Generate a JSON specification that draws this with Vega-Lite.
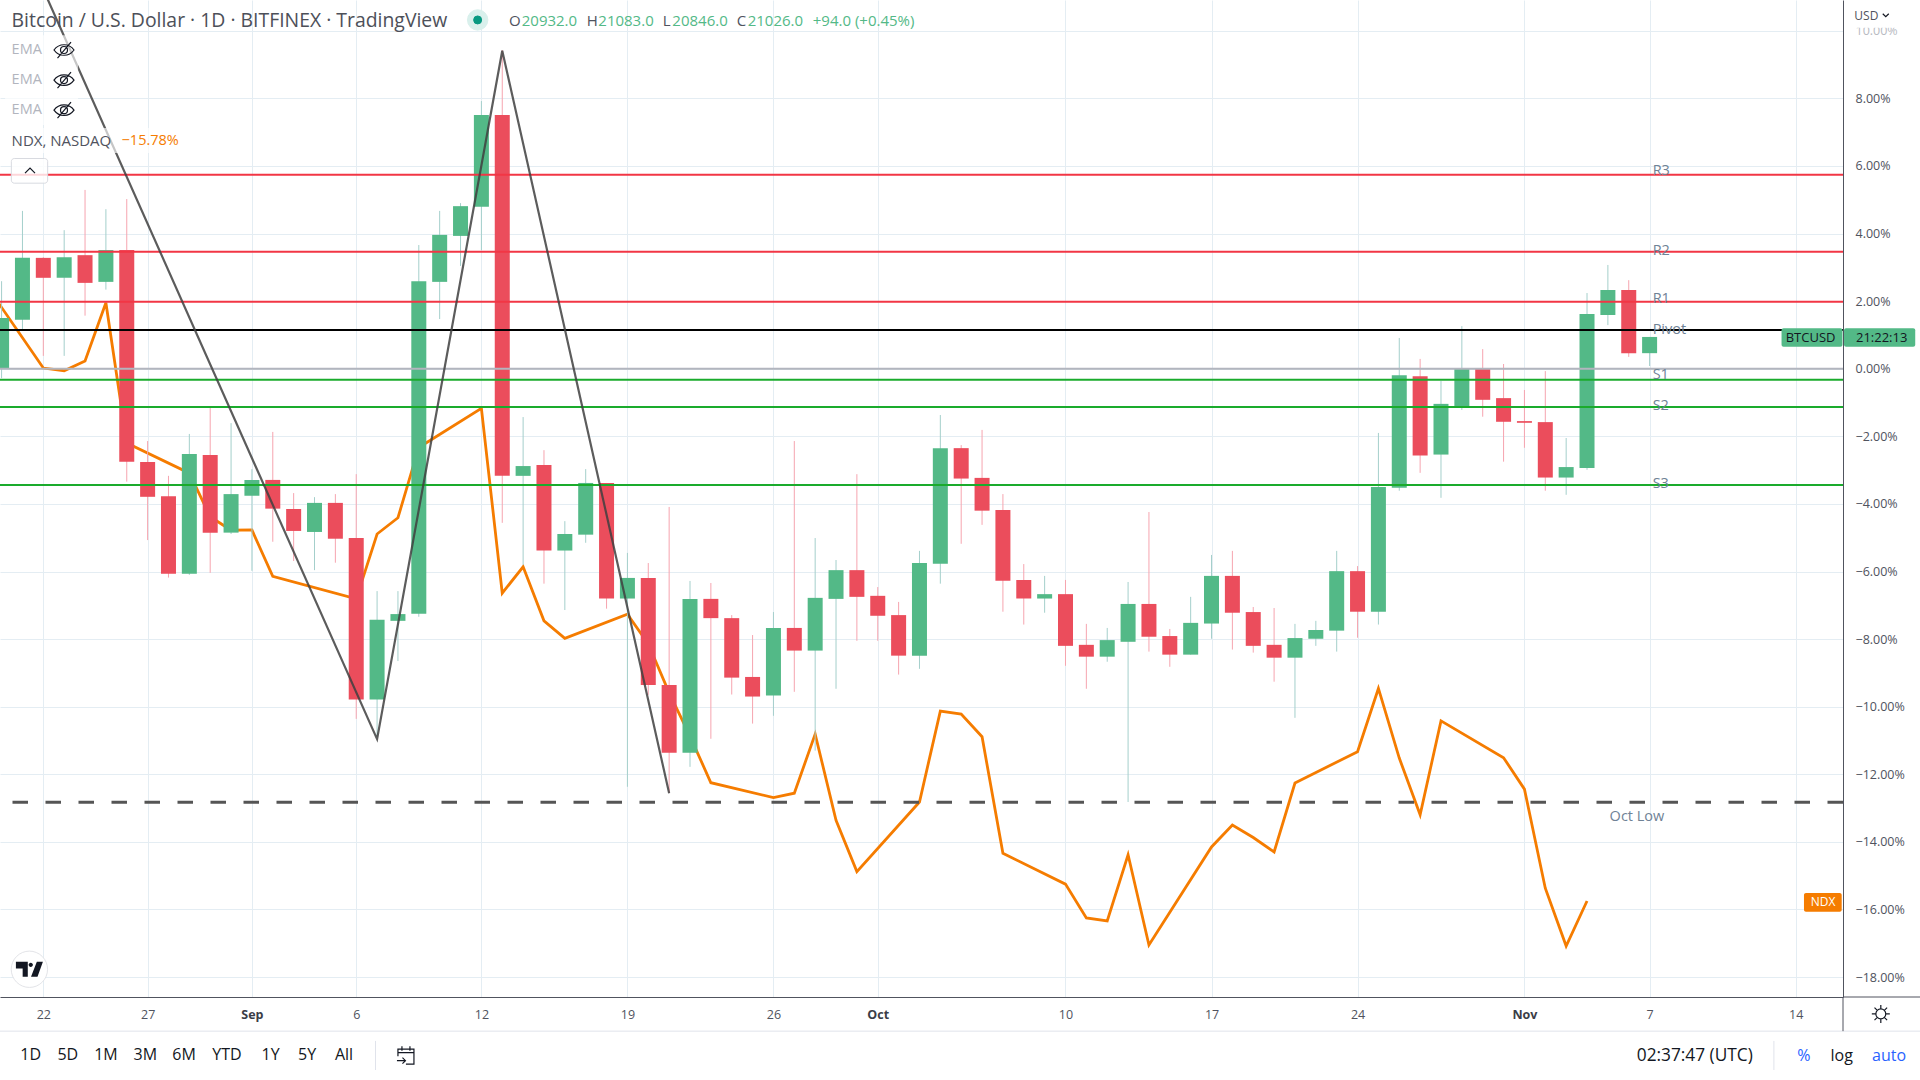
{
"$schema":"https://vega.github.io/schema/vega-lite/v6.json",
"width":1843,"height":997,
"autosize":{"type":"none"},
"padding":{"left":0,"top":0,"right":77,"bottom":83},
"background":"#ffffff",
"config":{"view":{"stroke":null},"font":"Open Sans"},
"resolve":{"scale":{"color":"independent","size":"independent","shape":"independent"}},
"datasets":{
"candles":[
{"date":"2022-08-20","open":0.02,"high":2.59,"low":-0.28,"close":1.50},
{"date":"2022-08-21","open":1.45,"high":4.67,"low":1.14,"close":3.28},
{"date":"2022-08-22","open":3.28,"high":3.30,"low":0.38,"close":2.69},
{"date":"2022-08-23","open":2.69,"high":4.10,"low":0.38,"close":3.30},
{"date":"2022-08-24","open":3.36,"high":5.29,"low":1.57,"close":2.54},
{"date":"2022-08-25","open":2.57,"high":4.72,"low":2.34,"close":3.51},
{"date":"2022-08-26","open":3.51,"high":5.02,"low":-3.34,"close":-2.75},
{"date":"2022-08-27","open":-2.76,"high":-2.14,"low":-5.07,"close":-3.79},
{"date":"2022-08-28","open":-3.77,"high":-3.17,"low":-6.18,"close":-6.07},
{"date":"2022-08-29","open":-6.07,"high":-1.93,"low":-6.10,"close":-2.52},
{"date":"2022-08-30","open":-2.55,"high":-1.15,"low":-6.04,"close":-4.85},
{"date":"2022-08-31","open":-4.85,"high":-1.61,"low":-4.89,"close":-3.71},
{"date":"2022-09-01","open":-3.76,"high":-2.97,"low":-5.98,"close":-3.29},
{"date":"2022-09-02","open":-3.29,"high":-1.87,"low":-5.12,"close":-4.14},
{"date":"2022-09-03","open":-4.15,"high":-3.68,"low":-5.69,"close":-4.80},
{"date":"2022-09-04","open":-4.83,"high":-3.80,"low":-5.96,"close":-3.97},
{"date":"2022-09-05","open":-3.97,"high":-3.71,"low":-5.74,"close":-5.03},
{"date":"2022-09-06","open":-5.01,"high":-3.12,"low":-10.36,"close":-9.79},
{"date":"2022-09-07","open":-9.79,"high":-6.58,"low":-10.89,"close":-7.43},
{"date":"2022-09-08","open":-7.46,"high":-6.58,"low":-8.65,"close":-7.26},
{"date":"2022-09-09","open":-7.25,"high":3.66,"low":-7.34,"close":2.59},
{"date":"2022-09-10","open":2.57,"high":4.67,"low":1.47,"close":3.96},
{"date":"2022-09-11","open":3.93,"high":4.90,"low":3.04,"close":4.81},
{"date":"2022-09-12","open":4.79,"high":7.92,"low":3.51,"close":7.51},
{"date":"2022-09-13","open":7.51,"high":9.43,"low":-4.56,"close":-3.17},
{"date":"2022-09-14","open":-3.17,"high":-1.43,"low":-5.81,"close":-2.88},
{"date":"2022-09-15","open":-2.85,"high":-2.41,"low":-6.36,"close":-5.38},
{"date":"2022-09-16","open":-5.38,"high":-4.51,"low":-7.14,"close":-4.89},
{"date":"2022-09-17","open":-4.91,"high":-2.97,"low":-5.15,"close":-3.38},
{"date":"2022-09-18","open":-3.38,"high":-3.38,"low":-7.10,"close":-6.80},
{"date":"2022-09-19","open":-6.80,"high":-5.45,"low":-12.37,"close":-6.19},
{"date":"2022-09-20","open":-6.19,"high":-5.75,"low":-9.65,"close":-9.36},
{"date":"2022-09-21","open":-9.36,"high":-4.09,"low":-12.55,"close":-11.36},
{"date":"2022-09-22","open":-11.36,"high":-6.28,"low":-11.78,"close":-6.81},
{"date":"2022-09-23","open":-6.81,"high":-6.34,"low":-10.95,"close":-7.38},
{"date":"2022-09-24","open":-7.38,"high":-7.29,"low":-9.64,"close":-9.14},
{"date":"2022-09-25","open":-9.12,"high":-7.88,"low":-10.50,"close":-9.70},
{"date":"2022-09-26","open":-9.67,"high":-7.20,"low":-10.27,"close":-7.67},
{"date":"2022-09-27","open":-7.67,"high":-2.14,"low":-9.56,"close":-8.34},
{"date":"2022-09-28","open":-8.34,"high":-5.01,"low":-11.30,"close":-6.78},
{"date":"2022-09-29","open":-6.81,"high":-5.66,"low":-9.47,"close":-5.96},
{"date":"2022-09-30","open":-5.96,"high":-3.12,"low":-8.05,"close":-6.75},
{"date":"2022-10-01","open":-6.72,"high":-6.46,"low":-8.05,"close":-7.31},
{"date":"2022-10-02","open":-7.29,"high":-6.90,"low":-9.05,"close":-8.49},
{"date":"2022-10-03","open":-8.49,"high":-5.39,"low":-8.88,"close":-5.75},
{"date":"2022-10-04","open":-5.77,"high":-1.37,"low":-6.36,"close":-2.35},
{"date":"2022-10-05","open":-2.35,"high":-2.26,"low":-5.18,"close":-3.25},
{"date":"2022-10-06","open":-3.23,"high":-1.81,"low":-4.62,"close":-4.20},
{"date":"2022-10-07","open":-4.18,"high":-3.71,"low":-7.19,"close":-6.27},
{"date":"2022-10-08","open":-6.25,"high":-5.78,"low":-7.57,"close":-6.80},
{"date":"2022-10-09","open":-6.80,"high":-6.13,"low":-7.22,"close":-6.67},
{"date":"2022-10-10","open":-6.67,"high":-6.25,"low":-8.79,"close":-8.20},
{"date":"2022-10-11","open":-8.17,"high":-7.55,"low":-9.47,"close":-8.52},
{"date":"2022-10-12","open":-8.52,"high":-7.67,"low":-8.67,"close":-8.03},
{"date":"2022-10-13","open":-8.08,"high":-6.31,"low":-12.82,"close":-6.96},
{"date":"2022-10-14","open":-6.96,"high":-4.24,"low":-8.37,"close":-7.93},
{"date":"2022-10-15","open":-7.91,"high":-7.70,"low":-8.82,"close":-8.46},
{"date":"2022-10-16","open":-8.46,"high":-6.75,"low":-8.46,"close":-7.52},
{"date":"2022-10-17","open":-7.54,"high":-5.51,"low":-7.99,"close":-6.13},
{"date":"2022-10-18","open":-6.13,"high":-5.39,"low":-8.31,"close":-7.22},
{"date":"2022-10-19","open":-7.20,"high":-7.05,"low":-8.40,"close":-8.20},
{"date":"2022-10-20","open":-8.17,"high":-7.08,"low":-9.26,"close":-8.55},
{"date":"2022-10-21","open":-8.55,"high":-7.55,"low":-10.33,"close":-7.97},
{"date":"2022-10-22","open":-7.99,"high":-7.46,"low":-8.20,"close":-7.73},
{"date":"2022-10-23","open":-7.75,"high":-5.39,"low":-8.37,"close":-5.99},
{"date":"2022-10-24","open":-5.99,"high":-5.84,"low":-7.96,"close":-7.19},
{"date":"2022-10-25","open":-7.19,"high":-1.90,"low":-7.57,"close":-3.50},
{"date":"2022-10-26","open":-3.52,"high":0.91,"low":-3.61,"close":-0.19},
{"date":"2022-10-27","open":-0.22,"high":0.29,"low":-3.08,"close":-2.57},
{"date":"2022-10-28","open":-2.54,"high":-0.36,"low":-3.82,"close":-1.04},
{"date":"2022-10-29","open":-1.13,"high":1.26,"low":-1.22,"close":0.02},
{"date":"2022-10-30","open":0.02,"high":0.58,"low":-1.42,"close":-0.92},
{"date":"2022-10-31","open":-0.87,"high":0.14,"low":-2.75,"close":-1.57},
{"date":"2022-11-01","open":-1.55,"high":-0.63,"low":-2.34,"close":-1.60},
{"date":"2022-11-02","open":-1.58,"high":-0.07,"low":-3.61,"close":-3.22},
{"date":"2022-11-03","open":-3.22,"high":-2.05,"low":-3.73,"close":-2.91},
{"date":"2022-11-04","open":-2.94,"high":2.24,"low":-2.99,"close":1.62},
{"date":"2022-11-05","open":1.59,"high":3.07,"low":1.29,"close":2.33},
{"date":"2022-11-06","open":2.33,"high":2.62,"low":0.35,"close":0.46},
{"date":"2022-11-07","open":0.46,"high":0.94,"low":0.08,"close":0.94}
],
"ndx":[
{"date":"2022-08-19","v":2.71},{"date":"2022-08-22","v":0.02},{"date":"2022-08-23","v":-0.06},{"date":"2022-08-24","v":0.23},{"date":"2022-08-25","v":1.95},{"date":"2022-08-26","v":-2.20},
{"date":"2022-08-29","v":-3.09},{"date":"2022-08-30","v":-4.38},{"date":"2022-08-31","v":-4.78},{"date":"2022-09-01","v":-4.77},{"date":"2022-09-02","v":-6.14},
{"date":"2022-09-06","v":-6.81},{"date":"2022-09-07","v":-4.89},{"date":"2022-09-08","v":-4.41},{"date":"2022-09-09","v":-2.33},
{"date":"2022-09-12","v":-1.17},{"date":"2022-09-13","v":-6.64},{"date":"2022-09-14","v":-5.86},{"date":"2022-09-15","v":-7.46},{"date":"2022-09-16","v":-7.98},
{"date":"2022-09-19","v":-7.26},{"date":"2022-09-20","v":-8.14},{"date":"2022-09-21","v":-9.59},{"date":"2022-09-22","v":-10.87},{"date":"2022-09-23","v":-12.25},
{"date":"2022-09-26","v":-12.69},{"date":"2022-09-27","v":-12.56},{"date":"2022-09-28","v":-10.81},{"date":"2022-09-29","v":-13.36},{"date":"2022-09-30","v":-14.88},
{"date":"2022-10-03","v":-12.82},{"date":"2022-10-04","v":-10.13},{"date":"2022-10-05","v":-10.22},{"date":"2022-10-06","v":-10.89},{"date":"2022-10-07","v":-14.34},
{"date":"2022-10-10","v":-15.25},{"date":"2022-10-11","v":-16.25},{"date":"2022-10-12","v":-16.34},{"date":"2022-10-13","v":-14.38},{"date":"2022-10-14","v":-17.05},
{"date":"2022-10-17","v":-14.15},{"date":"2022-10-18","v":-13.50},{"date":"2022-10-19","v":-13.87},{"date":"2022-10-20","v":-14.30},{"date":"2022-10-21","v":-12.26},
{"date":"2022-10-24","v":-11.33},{"date":"2022-10-25","v":-9.46},{"date":"2022-10-26","v":-11.52},{"date":"2022-10-27","v":-13.20},{"date":"2022-10-28","v":-10.42},
{"date":"2022-10-31","v":-11.51},{"date":"2022-11-01","v":-12.44},{"date":"2022-11-02","v":-15.37},{"date":"2022-11-03","v":-17.08},{"date":"2022-11-04","v":-15.75}
],
"levels":[
{"name":"Zero","v":0},{"name":"R3","v":5.74},{"name":"R2","v":3.46},{"name":"R1","v":1.98},{"name":"Pivot","v":1.145},{"name":"S1","v":-0.33},{"name":"S2","v":-1.13},{"name":"S3","v":-3.44}
],
"zigzag":[
{"date":"2022-08-22","v":11.22},{"date":"2022-09-07","v":-10.96},{"date":"2022-09-13","v":9.41},{"date":"2022-09-21","v":-12.56}
],
"veils":[
{"kind":"veil","x":"2022-08-20T04:00:00Z","x2":"2022-08-23T16:00:00Z","v":9.87,"v2":7.21},
{"kind":"veil","x":"2022-08-20T04:00:00Z","x2":"2022-08-28T19:00:00Z","v":7.12,"v2":6.38},
{"kind":"cover","x":"2022-11-16T07:40:00Z","x2":"2022-11-20T00:00:00Z","v":10.91,"v2":10.09},
{"kind":"btc","x":"2022-11-13T07:48:00Z","x2":"2022-11-16T05:54:00Z","v":1.20,"v2":0.65},
{"kind":"btc","x":"2022-11-16T07:40:00Z","x2":"2022-11-19T17:36:00Z","v":1.20,"v2":0.65},
{"kind":"ndx","x":"2022-11-14T09:36:00Z","x2":"2022-11-16T05:00:00Z","v":-15.51,"v2":-16.07}
],
"button":[{"x":"2022-08-20T11:12:00Z","x2":"2022-08-22T05:00:00Z","v":6.22,"v2":5.49}],
"hlines":[
{"x":"2022-11-16T06:30:00Z","x2":"2022-11-20T00:00:00Z","v":-18.59,"kind":"axis"},
{"x":"2022-08-19T22:10:00Z","x2":"2022-11-20T00:00:00Z","v":-19.6,"kind":"sep"}
],
"vlines":[
{"x":"2022-11-16T06:30:00Z","v":-18.59,"v2":-19.6,"kind":"axis"},
{"x":"2022-09-06T22:12:00Z","v":-19.89,"v2":-20.75,"kind":"sep"},
{"x":"2022-11-12T23:00:00Z","v":-19.89,"v2":-20.75,"kind":"sep"}
],
"leftText":[
{"t":"Bitcoin / U.S. Dollar · 1D · BITFINEX · TradingView","x":"2022-08-20T11:30:00Z","v":10.29,"kind":"head"},
{"t":"O","x":"2022-09-13T07:48:00Z","v":10.29,"kind":"letter"},
{"t":"20932.0","x":"2022-09-13T22:24:00Z","v":10.29,"kind":"gain"},
{"t":"H","x":"2022-09-17T01:12:00Z","v":10.29,"kind":"letter"},
{"t":"21083.0","x":"2022-09-17T14:30:00Z","v":10.29,"kind":"gain"},
{"t":"L","x":"2022-09-20T16:36:00Z","v":10.29,"kind":"letter"},
{"t":"20846.0","x":"2022-09-21T03:42:00Z","v":10.29,"kind":"gain"},
{"t":"C","x":"2022-09-24T05:42:00Z","v":10.29,"kind":"letter"},
{"t":"21026.0","x":"2022-09-24T18:24:00Z","v":10.29,"kind":"gain"},
{"t":"+94.0 (+0.45%)","x":"2022-09-27T21:12:00Z","v":10.29,"kind":"gain"},
{"t":"EMA","x":"2022-08-20T11:30:00Z","v":9.43,"kind":"ema"},
{"t":"EMA","x":"2022-08-20T11:30:00Z","v":8.54,"kind":"ema"},
{"t":"EMA","x":"2022-08-20T11:30:00Z","v":7.65,"kind":"ema"},
{"t":"NDX, NASDAQ","x":"2022-08-20T11:30:00Z","v":6.75,"kind":"legend"},
{"t":"−15.78%","x":"2022-08-25T18:00:00Z","v":6.75,"kind":"orange"},
{"t":"R3","x":"2022-11-07T03:30:00Z","v":5.86,"kind":"level"},
{"t":"R2","x":"2022-11-07T03:30:00Z","v":3.49,"kind":"level"},
{"t":"R1","x":"2022-11-07T03:30:00Z","v":2.07,"kind":"level"},
{"t":"Pivot","x":"2022-11-07T03:30:00Z","v":1.14,"kind":"level"},
{"t":"S1","x":"2022-11-07T03:30:00Z","v":-0.20,"kind":"level"},
{"t":"S2","x":"2022-11-07T03:30:00Z","v":-1.10,"kind":"level"},
{"t":"S3","x":"2022-11-07T03:30:00Z","v":-3.40,"kind":"level"},
{"t":"Oct Low","x":"2022-11-05T02:00:00Z","v":-13.25,"kind":"level"},
{"t":"USD","x":"2022-11-16T19:30:00Z","v":10.44,"kind":"usd"}
],
"centerText":[
{"t":"1D","x":"2022-08-21T09:24:00Z","v":-20.31,"kind":"tool"},
{"t":"5D","x":"2022-08-23T04:12:00Z","v":-20.31,"kind":"tool"},
{"t":"1M","x":"2022-08-25T00:06:00Z","v":-20.31,"kind":"tool"},
{"t":"3M","x":"2022-08-26T21:18:00Z","v":-20.31,"kind":"tool"},
{"t":"6M","x":"2022-08-28T17:54:00Z","v":-20.31,"kind":"tool"},
{"t":"YTD","x":"2022-08-30T19:18:00Z","v":-20.31,"kind":"tool"},
{"t":"1Y","x":"2022-09-01T21:30:00Z","v":-20.31,"kind":"tool"},
{"t":"5Y","x":"2022-09-03T15:24:00Z","v":-20.31,"kind":"tool"},
{"t":"All","x":"2022-09-05T10:00:00Z","v":-20.31,"kind":"tool"},
{"t":"02:37:47 (UTC)","x":"2022-11-09T04:00:00Z","v":-20.33,"kind":"clock"},
{"t":"%","x":"2022-11-14T09:24:00Z","v":-20.35,"kind":"blue"},
{"t":"log","x":"2022-11-16T05:00:00Z","v":-20.35,"kind":"tool"},
{"t":"auto","x":"2022-11-18T11:30:00Z","v":-20.35,"kind":"blue"},
{"t":"BTCUSD","x":"2022-11-14T17:12:00Z","v":0.91,"kind":"pill"},
{"t":"21:22:13","x":"2022-11-18T03:00:00Z","v":0.91,"kind":"pill"},
{"t":"NDX","x":"2022-11-15T07:30:00Z","v":-15.79,"kind":"pillw"}
],
"icons":[
{"icon":"eye","x":"2022-08-22T23:48:00Z","v":9.43},
{"icon":"eye","x":"2022-08-22T23:48:00Z","v":8.54},
{"icon":"eye","x":"2022-08-22T23:48:00Z","v":7.65},
{"icon":"up","x":"2022-08-21T08:42:00Z","v":5.86},
{"icon":"down","x":"2022-11-18T07:42:00Z","v":10.46},
{"icon":"gear","x":"2022-11-18T02:00:00Z","v":-19.09},
{"icon":"cal","x":"2022-09-08T09:12:00Z","v":-20.31}
],
"dots":[
{"kind":"halo","x":"2022-09-11T19:42:00Z","v":10.32},
{"kind":"dot","x":"2022-09-11T19:42:00Z","v":10.32},
{"kind":"badge","x":"2022-08-21T08:00:00Z","v":-17.77}
],
"logo":[{"x":"2022-08-21T08:00:00Z","v":-17.77}]
},
"layer":[
{"data":{"name":"ndx"},
 "mark":{"type":"line","color":"#f57c00","strokeWidth":2.8,"strokeJoin":"miter"},
 "encoding":{
  "x":{"field":"date","type":"temporal","title":null,
   "scale":{"type":"utc","nice":false,"padding":0,"domain":["2022-08-19T22:10:00Z","2022-11-16T06:30:00Z"]},
   "axis":{"title":null,"orient":"bottom","grid":true,"gridColor":"#e4edf3","gridWidth":1,"ticks":false,"domainColor":"#50535e","domainWidth":1,
    "labelFont":"Open Sans","labelFontSize":12.5,"labelColor":{"condition":{"test":"utcFormat(datum.value,'%-d')=='1'","value":"#3a3d47"},"value":"#50535e"},
    "labelFontWeight":{"condition":{"test":"utcFormat(datum.value,'%-d')=='1'","value":"bold"},"value":"normal"},
    "labelPadding":17,"labelBaseline":"middle","labelOverlap":false,"labelFlush":false,"labelBound":false,"labelAngle":0,
    "values":[{"year":2022,"month":"aug","date":22,"utc":true},{"year":2022,"month":"aug","date":27,"utc":true},{"year":2022,"month":"sep","date":1,"utc":true},{"year":2022,"month":"sep","date":6,"utc":true},{"year":2022,"month":"sep","date":12,"utc":true},{"year":2022,"month":"sep","date":19,"utc":true},{"year":2022,"month":"sep","date":26,"utc":true},{"year":2022,"month":"oct","date":1,"utc":true},{"year":2022,"month":"oct","date":10,"utc":true},{"year":2022,"month":"oct","date":17,"utc":true},{"year":2022,"month":"oct","date":24,"utc":true},{"year":2022,"month":"nov","date":1,"utc":true},{"year":2022,"month":"nov","date":7,"utc":true},{"year":2022,"month":"nov","date":14,"utc":true}],
    "labelExpr":"utcFormat(datum.value,'%-d')=='1' ? utcFormat(datum.value,'%b') : utcFormat(datum.value,'%-d')"}},
  "y":{"field":"v","type":"quantitative","title":null,
   "scale":{"domain":[-18.59,10.91],"nice":false,"zero":false},
   "axis":{"title":null,"orient":"right","grid":true,"gridColor":"#e4edf3","gridWidth":1,"ticks":false,"domainColor":"#50535e","domainWidth":1,
    "labelFont":"Open Sans","labelFontSize":12.5,"labelColor":{"condition":{"test":"datum.value==10","value":"#b8bbc2"},"value":"#50535e"},
    "labelPadding":12,"labelAlign":"left","labelBaseline":"middle","labelOverlap":false,"labelBound":false,"labelFlush":false,
    "values":[-18,-16,-14,-12,-10,-8,-6,-4,-2,0,2,4,6,8,10],
    "labelExpr":"(datum.value<0?'−':'')+format(abs(datum.value),'.2f')+'%'"}}
 }},
{"data":{"name":"candles"},
 "mark":{"type":"rule","strokeWidth":1},
 "encoding":{
  "x":{"field":"date","type":"temporal"},
  "y":{"field":"low","type":"quantitative"},"y2":{"field":"high"},
  "color":{"condition":{"test":"datum.close>=datum.open","value":"#a4cfcb"},"value":"#f6a4af"}}},
{"data":{"name":"candles"},
 "mark":{"type":"bar","size":15},
 "encoding":{
  "x":{"field":"date","type":"temporal"},
  "y":{"field":"open","type":"quantitative"},"y2":{"field":"close"},
  "color":{"condition":{"test":"datum.close>=datum.open","value":"#53b987"},"value":"#eb4d5c"}}},
{"data":{"name":"levels"},
 "mark":{"type":"rule","strokeWidth":2},
 "encoding":{
  "y":{"field":"v","type":"quantitative"},
  "strokeWidth":{"condition":{"test":"datum.name=='Zero'","value":1},"value":2},
  "color":{"field":"name","type":"nominal","legend":null,
   "scale":{"domain":["Zero","R3","R2","R1","Pivot","S1","S2","S3"],"range":["#b2b5be","#f23645","#f23645","#f23645","#000000","#1aab2c","#1aab2c","#1aab2c"]}}}},
{"data":{"values":[{"name":"Oct Low","v":-12.83}]},
 "mark":{"type":"rule","strokeWidth":3,"color":"#555555","strokeDash":[15.5,17.5],"strokeDashOffset":0},
 "encoding":{"y":{"field":"v","type":"quantitative"}}},
{"data":{"name":"zigzag"},
 "mark":{"type":"line","color":"#3f3f3f","strokeWidth":2.2,"opacity":0.85,"strokeJoin":"miter"},
 "encoding":{"x":{"field":"date","type":"temporal"},"y":{"field":"v","type":"quantitative"}}},
{"data":{"name":"veils"},
 "mark":{"type":"rect","cornerRadius":2},
 "encoding":{
  "x":{"field":"x","type":"temporal"},"x2":{"field":"x2"},
  "y":{"field":"v","type":"quantitative"},"y2":{"field":"v2"},
  "color":{"field":"kind","type":"nominal","legend":null,
   "scale":{"domain":["veil","cover","btc","ndx"],"range":["rgba(255,255,255,0.65)","#ffffff","#53b987","#f57c00"]}}}},
{"data":{"name":"button"},
 "mark":{"type":"rect","cornerRadius":3,"fill":"rgba(255,255,255,0.8)","stroke":"#d8dae0","strokeWidth":1},
 "encoding":{"x":{"field":"x","type":"temporal"},"x2":{"field":"x2"},"y":{"field":"v","type":"quantitative"},"y2":{"field":"v2"}}},
{"data":{"name":"hlines"},
 "mark":{"type":"rule","strokeWidth":1},
 "encoding":{"x":{"field":"x","type":"temporal"},"x2":{"field":"x2"},"y":{"field":"v","type":"quantitative"},
  "color":{"field":"kind","type":"nominal","legend":null,"scale":{"domain":["axis","sep"],"range":["#50535e","#e0e3eb"]}}}},
{"data":{"name":"vlines"},
 "mark":{"type":"rule","strokeWidth":1},
 "encoding":{"x":{"field":"x","type":"temporal"},"y":{"field":"v","type":"quantitative"},"y2":{"field":"v2"},
  "color":{"field":"kind","type":"nominal","legend":null,"scale":{"domain":["axis","sep"],"range":["#50535e","#e0e3eb"]}}}},
{"data":{"name":"dots"},
 "mark":{"type":"point","shape":"circle","filled":true,"opacity":1,"strokeWidth":1},
 "encoding":{"x":{"field":"x","type":"temporal"},"y":{"field":"v","type":"quantitative"},
  "size":{"field":"kind","type":"nominal","legend":null,"scale":{"type":"ordinal","domain":["halo","dot","badge"],"range":[415,64,1320]}},
  "fill":{"field":"kind","type":"nominal","legend":null,"scale":{"domain":["halo","dot","badge"],"range":["#d9f0ec","#089981","#ffffff"]}},
  "stroke":{"field":"kind","type":"nominal","legend":null,"scale":{"domain":["halo","dot","badge"],"range":["#d9f0ec","#089981","#e3e4e8"]}}}},
{"data":{"name":"logo"},
 "mark":{"type":"point","filled":true,"color":"#131722","opacity":1,"size":729,"strokeWidth":0,
  "shape":"M-1,-0.55 H-0.12 V0.55 H-0.5 V-0.05 H-1 Z M0.26,-0.33 A0.16,0.16 0 1 1 -0.06,-0.33 A0.16,0.16 0 1 1 0.26,-0.33 Z M0.55,-0.55 H1 L0.6,0.55 H0.12 Z"},
 "encoding":{"x":{"field":"x","type":"temporal"},"y":{"field":"v","type":"quantitative"}}},
{"data":{"name":"icons"},
 "mark":{"type":"point","filled":false,"opacity":1,"strokeWidth":1.2,"color":"#131722"},
 "encoding":{"x":{"field":"x","type":"temporal"},"y":{"field":"v","type":"quantitative"},
  "shape":{"field":"icon","type":"nominal","legend":null,"scale":{"domain":["eye","up","down","gear","cal"],"range":[
   "M-1,0 C-0.5,-0.7 0.5,-0.7 1,0 C0.5,0.7 -0.5,0.7 -1,0 Z M0.35,0 A0.35,0.35 0 1 1 -0.35,0 A0.35,0.35 0 1 1 0.35,0 Z M-0.65,0.8 L0.7,-0.8",
   "M-1,0.5 L0,-0.5 L1,0.5",
   "M-1,-0.5 L0,0.5 L1,-0.5",
   "M0.55,0 A0.55,0.55 0 1 1 -0.55,0 A0.55,0.55 0 1 1 0.55,0 Z M0,-1 V-0.55 M0,1 V0.55 M-1,0 H-0.55 M1,0 H0.55 M-0.7,-0.7 L-0.39,-0.39 M0.7,-0.7 L0.39,-0.39 M-0.7,0.7 L-0.39,0.39 M0.7,0.7 L0.39,0.39",
   "M-0.8,0.1 V-0.6 H0.8 V0.9 H0 M-0.8,-0.25 H0.8 M-0.4,-0.9 V-0.45 M0.4,-0.9 V-0.45 M-0.9,0.55 H-0.05 M-0.35,0.25 L-0.05,0.55 L-0.35,0.85"]}},
  "size":{"field":"icon","type":"nominal","legend":null,"scale":{"type":"ordinal","domain":["eye","up","down","gear","cal"],"range":[400,100,36,324,400]}}}},
{"data":{"name":"leftText"},
 "mark":{"type":"text","align":"left","baseline":"middle","font":"Open Sans"},
 "encoding":{"x":{"field":"x","type":"temporal"},"y":{"field":"v","type":"quantitative"},"text":{"field":"t"},
  "color":{"field":"kind","type":"nominal","legend":null,"scale":{"domain":["head","letter","gain","ema","legend","orange","level","usd"],"range":["#4d5059","#50535e","#53b987","#b2b5be","#50535e","#f57c00","#6f8296","#50535e"]}},
  "size":{"field":"kind","type":"nominal","legend":null,"scale":{"type":"ordinal","domain":["head","letter","gain","ema","legend","orange","level","usd"],"range":[19.4,15,15,14.5,15,14.5,14.5,12]}}}},
{"data":{"name":"centerText"},
 "mark":{"type":"text","align":"center","baseline":"middle","font":"Open Sans"},
 "encoding":{"x":{"field":"x","type":"temporal"},"y":{"field":"v","type":"quantitative"},"text":{"field":"t"},
  "color":{"field":"kind","type":"nominal","legend":null,"scale":{"domain":["tool","clock","blue","pill","pillw"],"range":["#131722","#131722","#2962ff","#131722","#ffffff"]}},
  "size":{"field":"kind","type":"nominal","legend":null,"scale":{"type":"ordinal","domain":["tool","clock","blue","pill","pillw"],"range":[16,17.3,16,13,12]}}}}
]
}
